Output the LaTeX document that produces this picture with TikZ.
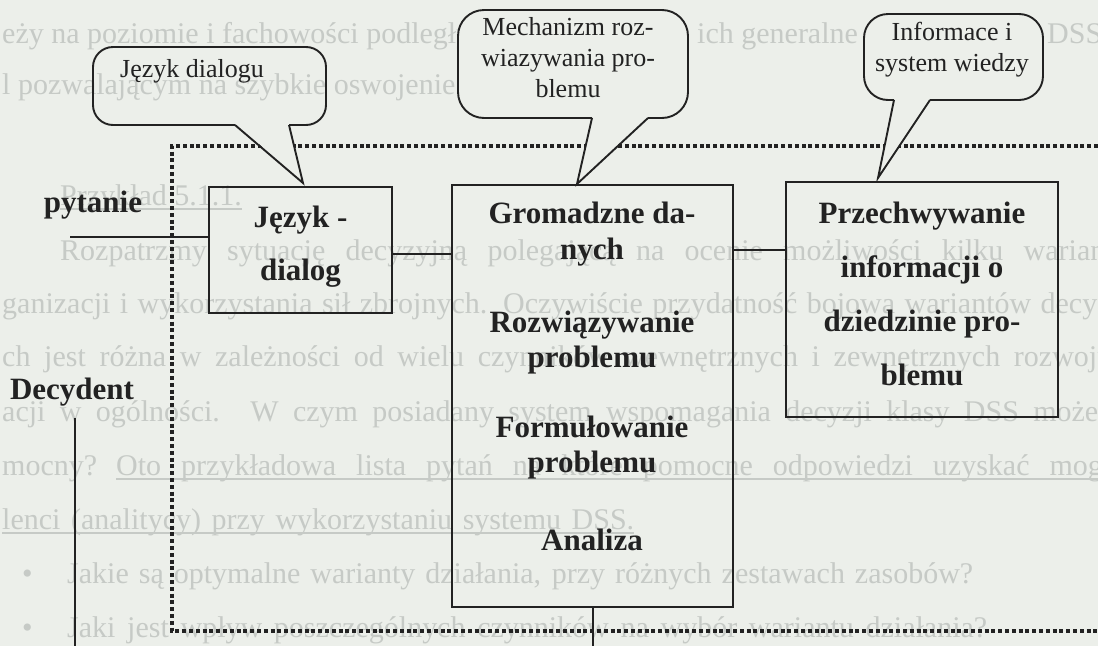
\documentclass[tikz,border=0pt]{standalone}
\usepackage{fontspec}
\setmainfont{Liberation Serif}
\definecolor{paper}{RGB}{236,239,234}
\definecolor{faded}{RGB}{198,202,198}
\definecolor{ink}{RGB}{34,34,34}
\newcommand\pagefont{\fontsize{30}{36}\selectfont}
\newcommand\bubblefont{\fontsize{26}{31}\selectfont}
\tikzset{
  pagetext/.style={anchor=base west, inner sep=0pt, text=faded, font=\pagefont},
  pageline/.style={draw=faded, line width=1.3pt},
  frameline/.style={draw=ink, line width=3.2pt, dash pattern=on 4pt off 2.8pt},
  bubbleline/.style={draw=ink, line width=1.9pt, line join=miter},
  bubbletext/.style={text=ink, font=\bubblefont, align=center, inner sep=0pt},
  blockbox/.style={draw=ink, line width=2.3pt, inner sep=0pt},
  blocktext/.style={text=ink, align=center, inner sep=0pt},
  link/.style={draw=ink, line width=2pt},
}
\begin{document}
\begin{tikzpicture}[x=1pt,y=-1pt]
\useasboundingbox (0,0) rectangle (1098,646);
\fill[paper] (0,0) rectangle (1098,646);
\clip (0,0) rectangle (1098,646);

% ---- printed page text underneath the diagram ----
\node[pagetext] (r1a) at (2,43) {eży na poziomie i fachowości podległych};
\node[pagetext] (r1b) at (697,43) {ich generalne pojęcie};
\node[pagetext] (r1c) at (1047,43) {DSS i};
\node[pagetext] (r2) at (2,94) {l pozwalającym na szybkie oswojenie się z DSS.};
\node[pagetext] (r3) at (60,205) {Przykład 5.1.1.};
\draw[pageline] ([yshift=-4pt]r3.base west) -- ([yshift=-4pt]r3.base east);
\node[pagetext] (r4) at (60,260) {\makebox[1090pt][s]{Rozpatrzmy sytuację decyzyjną polegającą na ocenie możliwości kilku wariantów}};
\node[pagetext] (r5) at (2,313) {\makebox[1105pt][s]{ganizacji i wykorzystania sił zbrojnych. Oczywiście przydatność bojowa wariantów decy-}};
\node[pagetext] (r6) at (2,366) {\makebox[1110pt][s]{ch jest różna w zależności od wielu czynników wewnętrznych i zewnętrznych rozwoju}};
\node[pagetext] (r7) at (2,421) {\makebox[1096pt][s]{acji w ogólności. W czym posiadany system wspomagania decyzji klasy DSS może}};
\node[pagetext] (r8a) at (2,475) {mocny?};
\node[pagetext] (r8b) at (116,475) {\makebox[1000pt][s]{Oto przykładowa lista pytań na które pomocne odpowiedzi uzyskać mogą}};
\draw[pageline] ([yshift=-4pt]r8b.base west) -- ([yshift=-4pt]r8b.base east);
\node[pagetext] (r9) at (2,529) {\makebox[632pt][s]{lenci (analitycy) przy wykorzystaniu systemu DSS.}};
\draw[pageline] ([yshift=-4pt]r9.base west) -- ([yshift=-4pt]r9.base east);
\node[pagetext] (b10) at (22,583) {•};
\node[pagetext] (r10) at (67,583) {\makebox[906pt][s]{Jakie są optymalne warianty działania, przy różnych zestawach zasobów?}};
\node[pagetext] (b11) at (22,637) {•};
\node[pagetext] (r11) at (67,637) {\makebox[920pt][s]{Jaki jest wpływ poszczególnych czynników na wybór wariantu działania?}};

% ---- dotted system boundary ----
\coordinate (fa) at (1098,146);
\coordinate (fb) at (172,146);
\coordinate (fc) at (172,631);
\coordinate (fd) at (1098,631);
\draw[frameline] (fa) -- (fb) -- (fc) -- (fd);

% ---- speech bubbles: body outline left open where the pointer joins ----
\coordinate (tip1) at (303,183);
\coordinate (tip2) at (577,184);
\coordinate (tip3) at (878,178);

% bubble 1 (see-through body)
\draw[bubbleline, rounded corners=20pt] (289,125) -- (326,125) -- (326,47) -- (93,47) -- (93,125) -- (235,125);
\fill[paper] (236,123.5) -- (tip1) -- (288,123.5) -- cycle;
\draw[bubbleline] (235,125) -- (tip1) -- (289,125);
\node[bubbletext] (bub1) at (192,71) {Język dialogu};

% bubble 2
\fill[paper, rounded corners=26pt] (458,10) rectangle (688,118);
\draw[bubbleline, rounded corners=26pt] (648,118) -- (688,118) -- (688,10) -- (458,10) -- (458,118) -- (592,118);
\fill[paper] (593,116.5) -- (tip2) -- (647,116.5) -- cycle;
\draw[bubbleline] (592,118) -- (tip2) -- (648,118);
\node[bubbletext] (bub2) at (568,58) {Mechanizm roz-\\wiazywania pro-\\blemu};

% bubble 3
\fill[paper, rounded corners=24pt] (864,14) rectangle (1043,100);
\draw[bubbleline, rounded corners=24pt] (930,100) -- (1043,100) -- (1043,14) -- (864,14) -- (864,100) -- (894,100);
\fill[paper] (895,98.5) -- (tip3) -- (929,98.5) -- cycle;
\draw[bubbleline] (894,100) -- (tip3) -- (930,100);
\node[bubbletext] (bub3) at (952,50) {Informace i\\system wiedzy};

% ---- blocks ----
\node[blockbox, minimum width=183pt, minimum height=126pt] (lang) at (300.5,250) {};
\node[blocktext, font=\fontsize{31}{53}\selectfont\bfseries] (langt) at (300.5,247) {Język -\\dialog};

\node[blockbox, minimum width=281pt, minimum height=422pt] (core) at (592.5,396) {};
\node[blocktext, font=\fontsize{31}{36}\selectfont\bfseries] (core1) at (592,234) {Gromadzne da-\\nych};
\node[blocktext, font=\fontsize{31}{35}\selectfont\bfseries] (core2) at (592,343) {Rozwiązywanie\\problemu};
\node[blocktext, font=\fontsize{31}{35}\selectfont\bfseries] (core3) at (592,448) {Formułowanie\\problemu};
\node[blocktext, font=\fontsize{31}{35}\selectfont\bfseries] (core4) at (592,540) {Analiza};

\node[blockbox, minimum width=272pt, minimum height=235pt] (know) at (922,299.5) {};
\node[blocktext, font=\fontsize{31}{54}\selectfont\bfseries] (knowt) at (922,294) {Przechwywanie\\informacji o\\dziedzinie pro-\\blemu};

% ---- outside labels ----
\node[blocktext, font=\fontsize{31}{36}\selectfont\bfseries] (ask) at (93,205) {pytanie};
\node[blocktext, font=\fontsize{31}{36}\selectfont\bfseries] (dec) at (72,392) {Decydent};

% ---- connectors ----
\coordinate (q0) at (70,237);
\draw[link] (q0) -- (q0 -| lang.west);
\coordinate (c1) at (392,254);
\draw[link] (lang.east |- c1) -- (core.west |- c1);
\coordinate (c2) at (733,250);
\draw[link] (core.east |- c2) -- (know.west |- c2);
\coordinate (gout) at (592.5,646);
\draw[link] (core.south) -- (gout);
\coordinate (d0) at (75,418);
\coordinate (d1) at (75,646);
\draw[link] (d0) -- (d1);
\end{tikzpicture}
\end{document}
